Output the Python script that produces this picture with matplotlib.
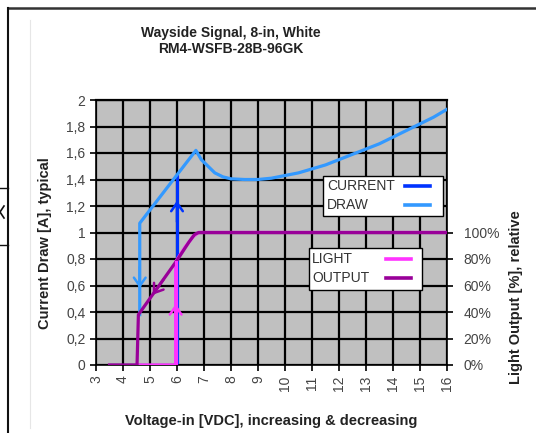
import matplotlib
matplotlib.use("Agg")
import matplotlib.pyplot as plt
from matplotlib.lines import Line2D
from matplotlib.patches import Rectangle

plt.rcParams['font.family'] = ['Liberation Sans', 'DejaVu Sans']

# ---- data ----
title_lines = ["Wayside Signal, 8-in, White", "RM4-WSFB-28B-96GK"]
x_ticks = list(range(3, 17))
y_ticks = [0, 0.2, 0.4, 0.6, 0.8, 1.0, 1.2, 1.4, 1.6, 1.8, 2.0]
y_tick_labels = ["0", "0,2", "0,4", "0,6", "0,8", "1", "1,2", "1,4", "1,6", "1,8", "2"]
right_ticks = [0, 0.2, 0.4, 0.6, 0.8, 1.0]
right_tick_labels = ["0%", "20%", "40%", "60%", "80%", "100%"]
legend1_labels = ["CURRENT", "DRAW"]
legend2_labels = ["LIGHT", "OUTPUT"]

# current draw, voltage increasing (dark blue)
cur_up_v = [3.5, 6.0, 6.0]
cur_up_a = [0.0, 0.0, 1.43]
# current draw, voltage decreasing (light blue)
cur_dn_v = [16, 15.5, 15, 14.5, 14, 13.5, 13, 12.5, 12, 11.5, 11, 10.5, 10, 9.5, 9, 8.5, 8.0, 7.7, 7.4, 7.1, 6.9, 6.7, 4.62, 4.62]
cur_dn_a = [1.93, 1.87, 1.82, 1.77, 1.72, 1.67, 1.63, 1.59, 1.55, 1.51, 1.48, 1.45, 1.43, 1.41, 1.40, 1.40, 1.405, 1.42, 1.45, 1.51, 1.55, 1.62, 1.07, 0.38]
# light output, voltage increasing (pink)
light_up_v = [4.5, 5.95, 5.95, 6.3, 6.6, 6.8, 16]
light_up_p = [0.0, 0.0, 0.78, 0.89, 0.97, 1.0, 1.0]
# light output, voltage decreasing (purple)
light_dn_v = [16, 6.8, 6.65, 6.45, 6.0, 4.57, 4.52, 3.5]
light_dn_p = [1.0, 1.0, 0.985, 0.93, 0.79, 0.38, 0.0, 0.0]

# arrows: (x_tail, y_tail, x_tip, y_tip)
arrows_dark = [(6.0, 1.08, 6.0, 1.24)]
arrows_light = [(4.62, 0.74, 4.62, 0.58)]
arrows_pink = [(5.95, 0.30, 5.95, 0.46)]
arrows_purple = [(5.5, 0.645, 5.1, 0.53)]

c_dark = '#0033ff'
c_light = '#3399ff'
c_pink = '#ff33ff'
c_purple = '#990099'

W, H = 536, 433
fig = plt.figure(figsize=(W / 100, H / 100), dpi=100)


def fx(px):
    return px / W


def fy(py):
    return 1 - py / H


FS_TICK = 10
FS_LAB = 10.5

L, R, T, B = 96, 447, 100, 365
ax = fig.add_axes([L / W, 1 - B / H, (R - L) / W, (B - T) / H])
ax.set_facecolor('#c0c0c0')
ax.set_xlim(3, 16)
ax.set_ylim(0, 2)
ax.set_xticks(x_ticks)
ax.set_xticklabels([str(v) for v in x_ticks], rotation=90)
ax.set_yticks(y_ticks)
ax.set_yticklabels(y_tick_labels)
ax.grid(True, color='black', lw=1.6)
ax.set_axisbelow(True)
for s in ax.spines.values():
    s.set_color('black')
    s.set_linewidth(1.2)
ax.spines['top'].set_linewidth(1.6)
ax.tick_params(axis='both', colors='black', labelcolor='#444444', labelsize=FS_TICK,
               length=4, width=1.2, direction='out')

lw = 2.3
ax.plot(cur_up_v, cur_up_a, color=c_dark, lw=lw, solid_joinstyle='round', zorder=2.5)
ax.plot(light_up_v, light_up_p, color=c_pink, lw=lw, solid_joinstyle='round', zorder=3)
ax.plot(cur_dn_v, cur_dn_a, color=c_light, lw=lw, solid_joinstyle='round', zorder=4)
ax.plot(light_dn_v, light_dn_p, color=c_purple, lw=lw, solid_joinstyle='round', zorder=4)
ax.plot(light_up_v[1:3], light_up_p[1:3], color=c_pink, lw=lw, zorder=5)


def draw_arrows(lst, color):
    for x0, y0, x1, y1 in lst:
        ax.annotate('', xy=(x1, y1), xytext=(x0, y0),
                    arrowprops=dict(arrowstyle='->,head_length=0.5,head_width=0.35',
                                    color=color, lw=1.8,
                                    mutation_scale=12, shrinkA=0, shrinkB=0),
                    zorder=6)


draw_arrows(arrows_dark, c_dark)
draw_arrows(arrows_light, c_light)
draw_arrows(arrows_pink, c_pink)
draw_arrows(arrows_purple, c_purple)

ax2 = ax.twinx()
ax2.set_ylim(0, 2)
ax2.set_yticks(right_ticks)
ax2.set_yticklabels(right_tick_labels)
ax2.tick_params(axis='y', colors='black', labelcolor='#444444', labelsize=FS_TICK,
                length=4, width=1.2, direction='out', pad=8)
for s in ax2.spines.values():
    s.set_visible(False)


# legends drawn as boxes with text left and line sample right
def draw_legend(box, labels, colors, rows_y, text_x, handle_x):
    x0, y0, x1, y1 = box
    fig.add_artist(Rectangle((fx(x0), fy(y1)), fx(x1) - fx(x0), fy(y0) - fy(y1),
                             transform=fig.transFigure, facecolor='white',
                             edgecolor='black', lw=1.0, zorder=10))
    for lab, col, ry in zip(labels, colors, rows_y):
        fig.text(fx(text_x), fy(ry), lab, ha='left', va='center', fontsize=10,
                 color='#333333', zorder=11)
        fig.add_artist(Line2D([fx(handle_x[0]), fx(handle_x[1])], [fy(ry), fy(ry)],
                              color=col, lw=2.6, transform=fig.transFigure, zorder=11))


draw_legend((323, 176, 443, 216), legend1_labels, [c_dark, c_light], [186, 205], 327, (405, 430))
draw_legend((309, 248, 422, 290), legend2_labels, [c_pink, c_purple], [259, 278], 312, (386, 411))

# titles and labels
fig.text(fx(231), fy(33), title_lines[0], ha='center', va='center',
         fontsize=10, fontweight='bold', color='#222222')
fig.text(fx(231), fy(49), title_lines[1], ha='center', va='center',
         fontsize=10, fontweight='bold', color='#222222')
fig.text(fx(271), fy(421), "Voltage-in [VDC], increasing & decreasing",
         ha='center', va='center', fontsize=FS_LAB, fontweight='bold', color='#222222')
fig.text(fx(45), fy(243), "Current Draw [A], typical", rotation=90,
         ha='center', va='center', fontsize=FS_LAB, fontweight='bold', color='#222222')
fig.text(fx(516), fy(297), "Light Output [%], relative", rotation=90,
         ha='center', va='center', fontsize=FS_LAB, fontweight='bold', color='#222222')

# page frame around the chart
fig.add_artist(Line2D([fx(8), 1], [fy(8), fy(8)], color='#333333', lw=1.8,
                      transform=fig.transFigure))
fig.add_artist(Line2D([fx(8), fx(8)], [0, fy(8)], color='#111111', lw=1.5,
                      transform=fig.transFigure))
fig.add_artist(Line2D([fx(30), fx(30)], [fy(428), fy(20)], color='#e6e6e6', lw=0.8,
                      transform=fig.transFigure))
fig.add_artist(Line2D([0, fx(8)], [fy(188), fy(188)], color='#111111', lw=1.0,
                      transform=fig.transFigure))
fig.add_artist(Line2D([0, fx(8)], [fy(245), fy(245)], color='#111111', lw=1.0,
                      transform=fig.transFigure))
fig.add_artist(Line2D([fx(4), 0, fx(4)], [fy(206), fy(212), fy(218)], color='#111111',
                      lw=1.2, transform=fig.transFigure))

fig.savefig('out.png', dpi=100)
